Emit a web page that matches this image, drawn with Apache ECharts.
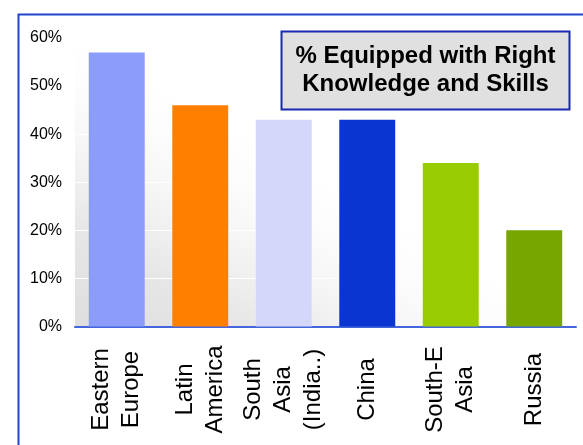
<!DOCTYPE html>
<html>
<head>
<meta charset="utf-8">
<script src="https://cdn.jsdelivr.net/npm/echarts@6/dist/echarts.min.js"></script>
<style>
  html, body { margin: 0; padding: 0; background: #fff; }
  #chart { width: 583px; height: 445px; }
</style>
</head>
<body>
<div id="chart"></div>
<script>
// Regions shown along the category axis
const categories = ['Eastern\nEurope', 'Latin\nAmerica', 'South\nAsia\n(India..)', 'China', 'South-E\nAsia', 'Russia'];
// Share equipped with the right knowledge and skills, in percent
const values = [57, 46, 43, 43, 34, 20];
// One fill per region
const barColors = ['#8c9cfa', '#ff8000', '#d5d7fa', '#0a35d0', '#99cc00', '#77a600'];
// Value axis range and step (percent)
const yMin = 0, yMax = 60, yStep = 10;
const titleText = '% Equipped with Right\nKnowledge and Skills';

const FONT = '"Liberation Sans", Arial, sans-serif';
const chart = echarts.init(document.getElementById('chart'), null, { renderer: 'canvas' });

chart.setOption({
  animation: false,
  backgroundColor: '#ffffff',
  graphic: [
    {
      // outer frame
      type: 'rect',
      shape: { x: 18.5, y: 14.5, width: 600, height: 460 },
      style: { fill: 'none', stroke: '#2244cc', lineWidth: 2 },
      z: 100,
      silent: true
    },
    {
      // boxed title, lines centred
      type: 'text',
      x: 425.5,
      y: 70.5,
      z: 110,
      silent: true,
      style: {
        text: titleText,
        align: 'center',
        verticalAlign: 'middle',
        fontFamily: FONT,
        fontSize: 24,
        fontWeight: 'bold',
        lineHeight: 28,
        fill: '#000',
        backgroundColor: '#e0e0e0',
        borderColor: '#1a2ab0',
        borderWidth: 2,
        padding: [10, 13, 10, 13]
      }
    }
  ],
  grid: {
    left: 75,
    right: 7,
    top: 38,
    bottom: 118.5,
    show: true,
    borderWidth: 0,
    backgroundColor: new echarts.graphic.LinearGradient(0, 1, 0.2477, 0.248, [
      { offset: 0, color: '#dedede' },
      { offset: 0.33, color: '#e6e6e6' },
      { offset: 0.5, color: '#efefef' },
      { offset: 0.67, color: '#f7f7f7' },
      { offset: 0.83, color: '#fcfcfc' },
      { offset: 1, color: '#ffffff' }
    ])
  },
  xAxis: {
    type: 'category',
    data: categories,
    axisLine: { show: true, lineStyle: { color: '#4466dd', width: 2 } },
    axisTick: { show: false },
    axisLabel: {
      interval: 0,
      rotate: 90,
      align: 'center',
      verticalAlign: 'middle',
      margin: 63,
      fontFamily: FONT,
      fontSize: 24,
      lineHeight: 30,
      color: '#000'
    }
  },
  yAxis: {
    type: 'value',
    min: yMin,
    max: yMax,
    interval: yStep,
    axisLine: { show: false },
    axisTick: { show: false },
    splitLine: { show: true, lineStyle: { color: '#ffffff', width: 1 } },
    axisLabel: {
      formatter: '{value}%',
      margin: 13,
      fontFamily: FONT,
      fontSize: 16,
      color: '#000'
    }
  },
  series: [{
    type: 'bar',
    data: values.map((v, i) => ({ value: v, itemStyle: { color: barColors[i] } })),
    barCategoryGap: '33%'
  }]
});
</script>
</body>
</html>
